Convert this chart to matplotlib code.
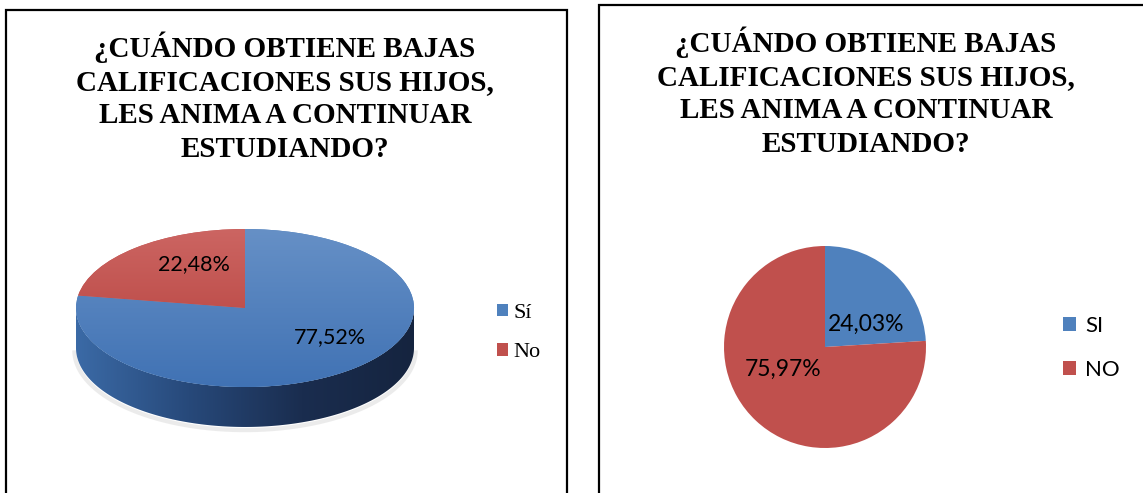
import numpy as np
import matplotlib
matplotlib.use("Agg")
from matplotlib import pyplot as plt
from matplotlib.patches import Patch, Rectangle, Polygon
from matplotlib.colors import LinearSegmentedColormap

# data
title = "¿CUÁNDO OBTIENE BAJAS\nCALIFICACIONES SUS HIJOS,\nLES ANIMA A CONTINUAR\nESTUDIANDO?"
left_labels = ["Sí", "No"]
left_values = [77.52, 22.48]
right_labels = ["SI", "NO"]
right_values = [24.03, 75.97]

BLUE = "#4F81BD"
RED = "#C0504D"
W, H = 1143, 493


def fig_rect(x, y, w, h):
    # pixel box (top-left origin) -> figure fraction
    return [x / W, 1 - (y + h) / H, w / W, h / H]


def pct_fmt(p):
    return f"{p:.2f}%".replace(".", ",")


fig = plt.figure(figsize=(W / 100, H / 100), dpi=100)
fig.patch.set_facecolor("white")

# panel borders
fig.patches.append(Rectangle((6 / W, -0.1), 561 / W, 1.1 - 10 / H, transform=fig.transFigure,
                             fill=False, lw=1.6, ec="black"))
fig.patches.append(Rectangle((599 / W, -0.1), 600 / W, 1.1 - 5 / H, transform=fig.transFigure,
                             fill=False, lw=1.6, ec="black"))

# titles
title_kw = dict(ha="center", va="center", multialignment="center", fontsize=21,
                fontweight="bold", family="Liberation Serif", linespacing=1.3)
fig.text(285 / W, 1 - 97 / H, title, **title_kw)
fig.text(866 / W, 1 - 92 / H, title, **title_kw)

# ---- left: 3D-looking pie ----
rx, ry, depth = 169, 79, 0.506
cx, cy = 245, 308
ax1 = fig.add_axes(fig_rect(cx - 1.3 * rx, cy - 1.3 * ry, 2.6 * rx, 3.1 * ry))
wedges, texts, autotexts = ax1.pie(left_values, colors=[BLUE, RED], startangle=90,
                                   counterclock=False, autopct=pct_fmt, pctdistance=0.62,
                                   textprops=dict(fontsize=15.5, family="Lato"), frame=False)
ax1.set_aspect("auto")
ax1.axis("off")

# side of the cylinder
t = np.linspace(np.pi, 2 * np.pi, 200)
side = np.concatenate([np.c_[np.cos(t), np.sin(t)],
                       np.c_[np.cos(t[::-1]), np.sin(t[::-1]) - depth]])
side_patch = Polygon(side, closed=True, fc="none", ec="none")
ax1.add_patch(side_patch)
shadow = Polygon(np.c_[1.01 * np.cos(t), 1.01 * np.sin(t) - depth - 0.03], closed=False,
                 fc="none", ec="#c8c8c8", lw=3, alpha=0.35, zorder=0)
ax1.add_patch(shadow)
side_cmap = LinearSegmentedColormap.from_list("side", ["#3b6aa6", "#27497a", "#1a2d4f", "#15243f"])
grad = np.linspace(0, 1, 256).reshape(1, -1)
im = ax1.imshow(grad, extent=(-1, 1, -1 - depth, 0), aspect="auto", cmap=side_cmap, zorder=0.5)
im.set_clip_path(side_patch)

# shade the top faces
top_maps = [LinearSegmentedColormap.from_list("b", ["#4072b4", "#6690c6"]),
            LinearSegmentedColormap.from_list("r", ["#b33c38", "#cc6562"])]
vgrad = np.linspace(0, 1, 256).reshape(-1, 1)
for w, cm in zip(wedges, top_maps):
    w.set_zorder(1)
    g = ax1.imshow(vgrad, extent=(-1, 1, -1, 1), origin="lower", aspect="auto", cmap=cm, zorder=1.5)
    g.set_clip_path(w)
ax1.set_xlim(-1.3, 1.3)
ax1.set_ylim(-1.8, 1.3)
for a in autotexts:
    a.set_zorder(3)
autotexts[0].set_position((0.5, -0.37))
autotexts[1].set_position((-0.3, 0.55))

fig.legend(handles=[Patch(fc=BLUE), Patch(fc=RED)], labels=left_labels,
           loc="center left", bbox_to_anchor=(477 / W, 1 - 333 / H), frameon=False,
           prop=dict(family="Liberation Serif", size=16), handlelength=0.5, handleheight=0.5,
           handletextpad=0.25, labelspacing=0.9)

# ---- right: flat pie ----
r, rcx, rcy = 101, 825, 347
ax2 = fig.add_axes(fig_rect(rcx - 1.25 * r, rcy - 1.25 * r, 2.5 * r, 2.5 * r))
w2, t2, a2 = ax2.pie(right_values, colors=[BLUE, RED], startangle=90, counterclock=False,
                     autopct=pct_fmt, textprops=dict(fontsize=16.5, family="Lato"), frame=False)
ax2.set_xlim(-1.25, 1.25)
ax2.set_ylim(-1.25, 1.25)
ax2.set_aspect("equal")
ax2.axis("off")
a2[0].set_position((0.41, 0.22))
a2[1].set_position((-0.42, -0.22))

fig.legend(handles=[Patch(fc=BLUE), Patch(fc=RED)], labels=right_labels,
           loc="center left", bbox_to_anchor=(1043 / W, 1 - 348 / H), frameon=False,
           prop=dict(family="Lato", size=16), handlelength=0.6, handleheight=0.6,
           handletextpad=0.4, labelspacing=1.1)

fig.savefig("out.png", dpi=100, facecolor="white")
